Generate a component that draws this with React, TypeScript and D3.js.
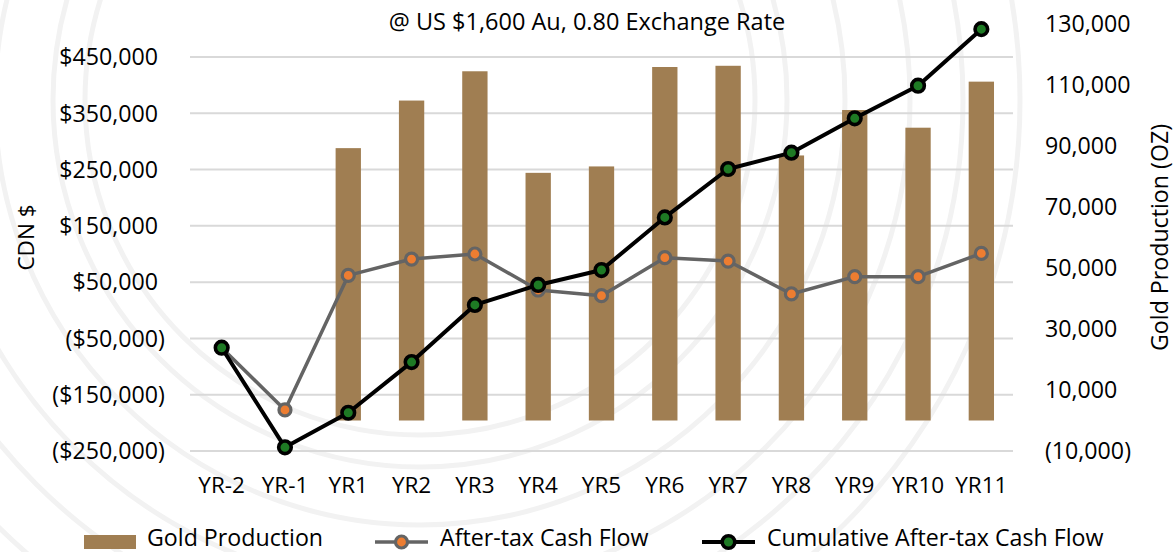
import React from 'react';
import * as d3 from 'd3';

const years = ['YR-2', 'YR-1', 'YR1', 'YR2', 'YR3', 'YR4', 'YR5', 'YR6', 'YR7', 'YR8', 'YR9', 'YR10', 'YR11'];
const goldOz = [null, null, 89300, 104900, 114500, 81200, 83300, 115900, 116300, 86900, 101800, 96000, 111100];
const afterTaxCF = [-66500, -177000, 62000, 91000, 100000, 36000, 26000, 93500, 87500, 29000, 59700, 59700, 101000];
const cumulativeCF = [-66500, -243500, -182000, -92000, 9500, 45000, 71500, 165000, 251000, 280000, 341000, 399000, 499500];
const leftTicks = [-250000, -150000, -50000, 50000, 150000, 250000, 350000, 450000];
const rightTicks = [-10000, 10000, 30000, 50000, 70000, 90000, 110000, 130000];
const ringRadii = [335, 367, 425, 490, 543, 600];

const W = 1176;
const H = 552;
const FONT = '"Open Sans", Lato, sans-serif';
const BAR = '#A07E52';
const FS = 23.2;

export default function App() {
  const x = d3.scaleBand<string>().domain(years).range([190, 1013]).padding(0);
  const yL = d3.scaleLinear().domain([-250000, 450000]).range([451, 57]);
  const yR = d3.scaleLinear().domain([-10000, 130000]).range([451, 24]);
  const cx = (d: string) => (x(d) ?? 0) + x.bandwidth() / 2;
  const barW = x.bandwidth() * 0.4;
  const fmt = d3.format(',');

  const line = d3.line<number>().x((_, i) => cx(years[i])).y((v) => yL(v));

  return (
    <svg width={W} height={H} style={{ position: 'absolute', left: 0, top: 0 }} fontFamily={FONT}>
      <rect width={W} height={H} fill="#fff" />
      {/* faint watermark rings */}
      <g fill="none" stroke="#f2f2f2" strokeWidth={5}>
        {ringRadii.map((r) => (
          <circle key={r} cx={420} cy={100} r={r} />
        ))}
      </g>

      <text x={587} y={30} textAnchor="middle" fontSize={23.5} fill="#000">
        @ US $1,600 Au, 0.80 Exchange Rate
      </text>

      {/* gridlines */}
      {leftTicks.map((t) => (
        <line key={t} x1={190} x2={1013} y1={yL(t)} y2={yL(t)} stroke="#d9d9d9" strokeWidth={2} />
      ))}

      {/* bars */}
      {years.map((yr, i) =>
        goldOz[i] == null ? null : (
          <rect
            key={yr}
            x={cx(yr) - barW / 2}
            width={barW}
            y={yR(goldOz[i] as number)}
            height={yR(0) - yR(goldOz[i] as number)}
            fill={BAR}
          />
        )
      )}

      {/* after-tax line */}
      <path d={line(afterTaxCF) ?? ''} fill="none" stroke="#646464" strokeWidth={3.5} strokeLinejoin="round" />
      {afterTaxCF.map((v, i) => (
        <circle key={i} cx={cx(years[i])} cy={yL(v)} r={6} fill="#ED7D31" stroke="#646464" strokeWidth={3.2} />
      ))}

      {/* cumulative line */}
      <path d={line(cumulativeCF) ?? ''} fill="none" stroke="#000" strokeWidth={4} strokeLinejoin="round" />
      {cumulativeCF.map((v, i) => (
        <circle key={i} cx={cx(years[i])} cy={yL(v)} r={6.3} fill="#1E7A24" stroke="#000" strokeWidth={3.6} />
      ))}

      {/* left axis labels */}
      {leftTicks.map((t) => (
        <g key={t} fontSize={FS} fill="#000">
          <text x={158} y={yL(t)} dy="0.36em" textAnchor="end">
            {t < 0 ? `($${fmt(-t)}` : `$${fmt(t)}`}
          </text>
          {t < 0 && (
            <text x={158} y={yL(t)} dy="0.36em" textAnchor="start">
              )
            </text>
          )}
        </g>
      ))}

      {/* right axis labels */}
      {rightTicks.map((t) => (
        <text key={t} x={1045} y={yR(t)} dy="0.36em" fontSize={FS} fill="#000">
          {t < 0 ? `(${fmt(-t)})` : fmt(t)}
        </text>
      ))}

      {/* category labels */}
      {years.map((yr) => (
        <text key={yr} x={cx(yr)} y={493} textAnchor="middle" fontSize={22.5} fill="#000">
          {yr}
        </text>
      ))}

      {/* axis titles */}
      <text transform="translate(34,237.5) rotate(-90)" textAnchor="middle" fontSize={22.5} fill="#000">
        CDN $
      </text>
      <text transform="translate(1168,237.5) rotate(-90)" textAnchor="middle" fontSize={FS} fill="#000">
        Gold Production (OZ)
      </text>

      {/* legend */}
      <g fontSize={FS} fill="#000">
        <rect x={84} y={535} width={52} height={14} fill={BAR} />
        <text x={147} y={546.3}>Gold Production</text>

        <line x1={375} x2={428} y1={542} y2={542} stroke="#646464" strokeWidth={3.5} />
        <circle cx={401.5} cy={542} r={6} fill="#ED7D31" stroke="#646464" strokeWidth={3.2} />
        <text x={440} y={546.3}>After-tax Cash Flow</text>

        <line x1={702} x2={755} y1={542} y2={542} stroke="#000" strokeWidth={4} />
        <circle cx={728.5} cy={542} r={6.3} fill="#1E7A24" stroke="#000" strokeWidth={3.6} />
        <text x={767} y={546.3}>Cumulative After-tax Cash Flow</text>
      </g>
    </svg>
  );
}
